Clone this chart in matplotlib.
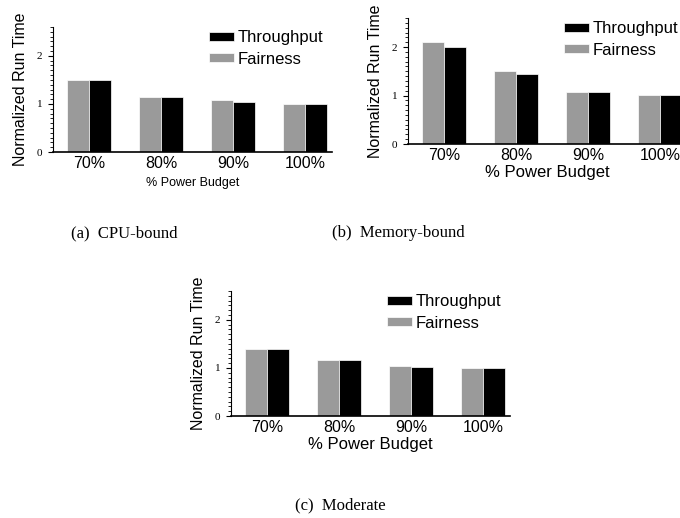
import matplotlib
matplotlib.use("Agg")
import matplotlib.pyplot as plt
import numpy as np
from matplotlib.ticker import MultipleLocator

budgets = ["70%", "80%", "90%", "100%"]

cpu_fairness = [1.50, 1.15, 1.08, 1.00]
cpu_throughput = [1.50, 1.15, 1.05, 1.00]

mem_fairness = [2.11, 1.50, 1.08, 1.02]
mem_throughput = [2.00, 1.44, 1.07, 1.02]

mod_fairness = [1.39, 1.17, 1.04, 1.00]
mod_throughput = [1.39, 1.17, 1.02, 1.00]

captions = ["(a)  CPU-bound", "(b)  Memory-bound", "(c)  Moderate"]

SANS = "Liberation Sans"
SERIF = "Liberation Serif"
GREY = "#9a9a9a"

W, H = 680, 518
fig = plt.figure(figsize=(W / 100, H / 100), dpi=100)


def px_axes(left, top, right, bottom):
    # pixel box (origin top-left) -> figure fraction
    return fig.add_axes([left / W, 1 - bottom / H, (right - left) / W, (bottom - top) / H])


def draw_panel(ax, fairness, throughput, xlabel_size, xlabel_pad):
    x = np.arange(len(budgets))
    width = 0.31
    ax.bar(x - width / 2, fairness, width, color=GREY, edgecolor="white",
           linewidth=0.5, label="Fairness")
    ax.bar(x + width / 2, throughput, width, color="black", edgecolor="white",
           linewidth=0.5, label="Throughput")

    ax.set_xlim(-0.5, 3.375)
    ax.set_ylim(0, 2.6)
    ax.set_xticks(x)
    ax.set_xticklabels(budgets, fontfamily=SANS, fontsize=11.5)
    ax.tick_params(axis="x", length=0, pad=3)

    ax.yaxis.set_major_locator(MultipleLocator(1))
    ax.yaxis.set_minor_locator(MultipleLocator(0.1))
    ax.tick_params(axis="y", which="major", length=3.6, width=0.8, pad=4, labelsize=8)
    ax.tick_params(axis="y", which="minor", length=2.2, width=0.6)
    for lab in ax.get_yticklabels():
        lab.set_fontfamily(SERIF)

    for side in ["top", "right"]:
        ax.spines[side].set_visible(False)
    ax.spines["left"].set_linewidth(0.8)
    ax.spines["bottom"].set_linewidth(1.2)

    ax.set_ylabel("Normalized Run Time", fontfamily=SANS, fontsize=11.5)
    ax.yaxis.set_label_coords(-0.09, 0.5)
    ax.set_xlabel("% Power Budget", fontfamily=SANS, fontsize=xlabel_size,
                  labelpad=xlabel_pad)

    handles, labels = ax.get_legend_handles_labels()
    ax.legend(handles[::-1], labels[::-1], loc="upper left", bbox_to_anchor=(0.56, 0.975),
              frameon=False, borderaxespad=0, borderpad=0, handlelength=1.5,
              handleheight=0.45, handletextpad=0.2, labelspacing=0.4,
              prop={"family": SANS, "size": 12})


ax_a = px_axes(53, 27, 332, 152)
draw_panel(ax_a, cpu_fairness, cpu_throughput, 9, 4)

ax_b = px_axes(408, 18, 687, 144)
draw_panel(ax_b, mem_fairness, mem_throughput, 12, 1)

ax_c = px_axes(231, 291, 510, 416)
draw_panel(ax_c, mod_fairness, mod_throughput, 12, 1)

fig.text(124 / W, 1 - 233 / H, captions[0], ha="center", va="center",
         fontfamily=SERIF, fontsize=12)
fig.text(398 / W, 1 - 233 / H, captions[1], ha="center", va="center",
         fontfamily=SERIF, fontsize=12)
fig.text(340 / W, 1 - 505 / H, captions[2], ha="center", va="center",
         fontfamily=SERIF, fontsize=12)

fig.savefig("out.png", dpi=100)
